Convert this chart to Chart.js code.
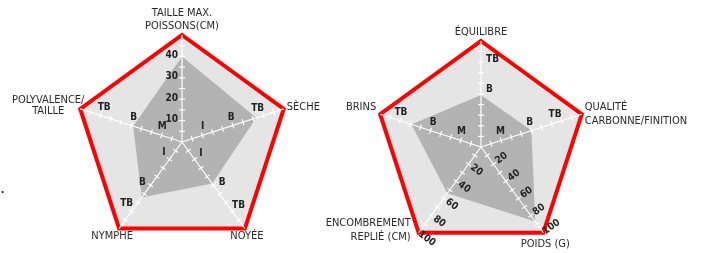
<!DOCTYPE html>
<html>
<head>
<meta charset="utf-8">
<script src="https://cdn.jsdelivr.net/npm/chart.js@4/dist/chart.umd.min.js"></script>
<style>
    body { margin: 0; background: #fff; }
    #wrap { position: relative; width: 701px; height: 253px; overflow: hidden; }
    canvas { position: absolute; top: 0; }
    #c1 { left: 0; }
    #c2 { left: 300px; }
    #dot { position: absolute; left: 1px; top: 182px; font: bold 12px "Liberation Sans", sans-serif; color: #111; }
</style>
</head>
<body>
<div id="wrap">
    <canvas id="c1" width="340" height="253"></canvas>
    <canvas id="c2" width="401" height="253"></canvas>
    <span id="dot">.</span>
</div>
<script>
/* ============================
   DONNÉES — graphique 1 (canne / pêche)
============================ */
const AXES_1 = [["TAILLE MAX.", "POISSONS(CM)"], "SÈCHE", "NOYÉE", "NYMPHE", ["POLYVALENCE/", "TAILLE"]];
const VALEURS_1 = [40, 36.5, 24, 32, 24];
const MAX_1 = 50;
const TICKS_NOMS_1 = [["10", "20", "30", "40"], ["I", "B", "TB"], ["I", "B", "TB"], ["I", "B", "TB"], ["M", "B", "TB"]];
const TICKS_VALS_1 = [[10, 20, 30, 40], [11.5, 25.5, 38.5], [9.5, 26.5, 39.5], [9, 26, 38.5], [11, 25, 39.5]];

/* ============================
   DONNÉES — graphique 2 (fabrication)
============================ */
const AXES_2 = ["ÉQUILIBRE", ["QUALITÉ", "CARBONNE/FINITION"], "POIDS (G)", ["ENCOMBREMENT", "REPLIÉ (CM)"], "BRINS"];
const VALEURS_2 = [49, 50, 87, 54, 69];
const MAX_2 = 100;
const TICKS_NOMS_2 = [["B", "TB"], ["M", "B", "TB"], ["20", "40", "60", "80", "100"], ["20", "40", "60", "80", "100"], ["M", "B", "TB"]];
const TICKS_VALS_2 = [[53, 82], [22, 51, 76], [20, 40, 60, 80, 100], [20, 40, 60, 80, 100], [22, 50, 82]];

/* ============================
   STYLE
============================ */
const FONT = '"Liberation Sans Narrow", "DejaVu Sans Condensed", "Roboto", sans-serif';
const ROUGE = "#ff0000";
const GRIS_CLAIR = "#e5e5e5";
const GRIS_DATA = "#b3b3b3";

/* ============================
   PLUGIN : axes blancs, graduations, libellés
============================ */
const radarDeco = {
    id: "radarDeco",
    afterDatasetsDraw(chart, args, opts) {
        const r = chart.scales.r;
        const ctx = chart.ctx;
        const n = chart.data.labels.length;
        const max = r.max;
        ctx.save();
        ctx.strokeStyle = "#ffffff";
        ctx.lineWidth = 1.2;
        for (let i = 0; i < n; i++) {
            const fin = r.getPointPositionForValue(i, max);
            ctx.beginPath();
            ctx.moveTo(r.xCenter, r.yCenter);
            ctx.lineTo(fin.x, fin.y);
            ctx.stroke();
            // petites graduations perpendiculaires
            const nx = -Math.sin(fin.angle), ny = Math.cos(fin.angle);
            for (let k = 1; k < 10; k++) {
                const p = r.getPointPositionForValue(i, max * k / 10);
                ctx.beginPath();
                ctx.moveTo(p.x - nx * 3, p.y - ny * 3);
                ctx.lineTo(p.x + nx * 3, p.y + ny * 3);
                ctx.stroke();
            }
        }

        // libellés de graduation
        ctx.fillStyle = "#222";
        ctx.font = "bold 10px " + FONT;
        ctx.textBaseline = "middle";
        opts.noms.forEach((noms, i) => {
            const mode = opts.modes[i];
            noms.forEach((txt, j) => {
                const p = r.getPointPositionForValue(i, opts.vals[i][j]);
                const a = p.angle;
                if (mode === "gauche") {
                    ctx.textAlign = "right";
                    ctx.fillText(txt, p.x - 4, p.y - 1);
                } else if (mode === "droite") {
                    ctx.textAlign = "left";
                    ctx.fillText(txt, p.x + 5, p.y - 1);
                } else if (mode === "haut") {
                    let ox = Math.sin(a), oy = -Math.cos(a);
                    if (oy > 0) { ox = -ox; oy = -oy; }
                    ctx.textAlign = "center";
                    ctx.fillText(txt, p.x + ox * 8.5, p.y + oy * 8.5);
                } else if (mode === "rot") {
                    const t = a - Math.PI / 2;
                    ctx.save();
                    ctx.translate(p.x + Math.cos(t) * 10, p.y + Math.sin(t) * 10);
                    ctx.rotate(t);
                    ctx.textAlign = "center";
                    ctx.fillText(txt, 0, 0);
                    ctx.restore();
                }
            });
        });
        ctx.restore();
    },
    afterDraw(chart, args, opts) {
        // libellés des axes (point labels), placés à la main
        const r = chart.scales.r;
        const ctx = chart.ctx;
        ctx.save();
        ctx.fillStyle = "#2a2a2a";
        ctx.font = "11px " + FONT;
        ctx.textBaseline = "middle";
        chart.data.labels.forEach((lab, i) => {
            const v = r.getPointPositionForValue(i, r.max);
            const pl = opts.place[i];
            const lignes = Array.isArray(lab) ? lab : [lab];
            ctx.textAlign = pl.align;
            lignes.forEach((l, k) => {
                ctx.fillText(l, v.x + pl.dx, v.y + pl.dy + k * pl.lh);
            });
        });
        ctx.restore();
    }
};

function creerRadar(canvasId, labels, valeurs, max, padding, deco) {
    return new Chart(document.getElementById(canvasId), {
        type: "radar",
        data: {
            labels: labels,
            datasets: [{
                data: valeurs,
                fill: true,
                backgroundColor: GRIS_DATA,
                borderColor: "rgba(0,0,0,0)",
                borderWidth: 0,
                pointRadius: 0,
                tension: 0
            }]
        },
        options: {
            responsive: false,
            animation: false,
            layout: { padding: padding },
            plugins: {
                legend: { display: false },
                tooltip: { enabled: false },
                radarDeco: deco
            },
            scales: {
                r: {
                    min: 0,
                    max: max,
                    backgroundColor: GRIS_CLAIR,
                    ticks: { display: false, stepSize: max },
                    grid: { color: ROUGE, lineWidth: 4 },
                    angleLines: { display: false },
                    pointLabels: { display: false }
                }
            }
        },
        plugins: [radarDeco]
    });
}

creerRadar("c1", AXES_1, VALEURS_1, MAX_1,
    { left: 75, right: 51, top: 35, bottom: 4 },
    {
        noms: TICKS_NOMS_1,
        vals: TICKS_VALS_1,
        modes: ["gauche", "haut", "haut", "haut", "haut"],
        place: [
            { dx: 0, dy: -22, align: "center", lh: 13 },
            { dx: 3, dy: -2, align: "left", lh: 13 },
            { dx: 2, dy: 8, align: "center", lh: 13 },
            { dx: -7, dy: 8, align: "center", lh: 13 },
            { dx: -32, dy: -9, align: "center", lh: 11 }
        ]
    });

creerRadar("c2", AXES_2, VALEURS_2, MAX_2,
    { left: 75, right: 114, top: 41, bottom: 0 },
    {
        noms: TICKS_NOMS_2,
        vals: TICKS_VALS_2,
        modes: ["droite", "haut", "rot", "rot", "haut"],
        place: [
            { dx: 0, dy: -9, align: "center", lh: 13 },
            { dx: 3, dy: -7, align: "left", lh: 13.5 },
            { dx: 2, dy: 11, align: "center", lh: 13 },
            { dx: -8, dy: -10, align: "right", lh: 14.5 },
            { dx: -4, dy: -7, align: "right", lh: 13 }
        ]
    });
</script>
</body>
</html>
